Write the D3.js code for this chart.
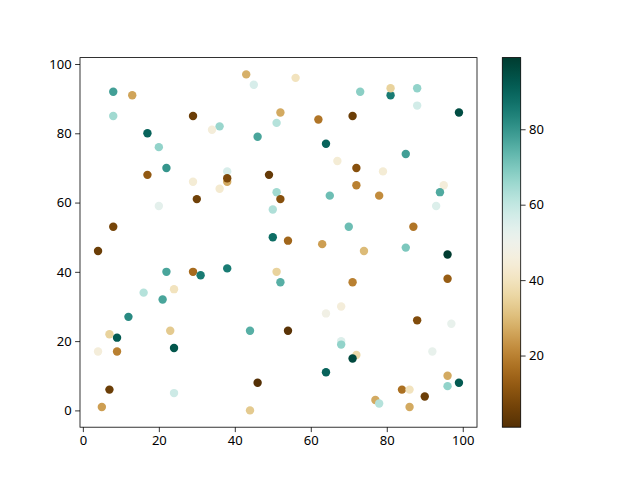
<!DOCTYPE html>
<html>
<head>
<meta charset="utf-8">
<script src="https://cdn.jsdelivr.net/npm/d3@7"></script>
<style>
  body { margin: 0; background: #fff; }
  text { font-family: "Noto Sans", "DejaVu Sans", sans-serif; }
</style>
</head>
<body>
<div id="chart"></div>
<script>
// point positions and colour values
var xs = [8, 13, 8, 29, 34, 36, 17, 20, 22, 17, 29, 36, 30, 20, 8,
          43, 45, 56, 52, 51, 62, 71, 46, 64, 67, 38, 38, 38, 49, 51, 52, 50, 65, 70, 50, 54, 63,
          73, 81, 81, 88, 88, 99, 85, 72, 79, 72, 78, 95, 94, 93, 87, 85,
          4, 22, 29, 31, 16, 24, 21, 12, 7, 9, 23, 4, 9, 24, 7, 24, 5,
          38, 51, 52, 71, 68, 64, 44, 54, 72, 68, 68, 71, 64, 46, 44,
          74, 96, 96, 88, 97, 92, 96, 99, 96, 84, 86, 90, 77, 78, 86];
var ys = [92, 91, 85, 85, 81, 82, 80, 76, 70, 68, 66, 64, 61, 59, 53,
          97, 94, 96, 86, 83, 84, 85, 79, 77, 72, 69, 66, 67, 68, 63, 61, 58, 62, 53, 50, 49, 48,
          92, 91, 93, 93, 88, 86, 74, 70, 69, 65, 62, 65, 63, 59, 53, 47,
          46, 40, 40, 39, 34, 35, 32, 27, 22, 21, 23, 17, 17, 18, 6, 5, 1,
          41, 40, 37, 37, 30, 28, 23, 23, 16, 20, 19, 15, 11, 8, 0,
          46, 45, 38, 26, 25, 17, 10, 8, 7, 6, 6, 4, 3, 2, 1];
var cs = [78, 26, 65, 5, 45, 66, 90, 67, 80, 12, 44, 43, 6, 53, 7,
          28, 56, 40, 27, 62, 18, 5, 77, 90, 44, 56, 27, 8, 4, 65, 10, 63, 72, 72, 88, 15, 25,
          68, 85, 35, 67, 57, 95, 78, 10, 44, 20, 22, 45, 76, 55, 18, 70,
          5, 77, 16, 85, 62, 40, 77, 82, 35, 92, 33, 45, 20, 93, 5, 58, 25,
          85, 35, 75, 20, 45, 48, 75, 2, 37, 55, 67, 96, 90, 1, 33,
          30, 99, 13, 9, 52, 52, 27, 92, 67, 17, 40, 5, 27, 62, 27];
var xTicks = [0, 20, 40, 60, 80, 100];
var yTicks = [0, 20, 40, 60, 80, 100];
var cTicks = [20, 40, 60, 80];

var W = 640, H = 480;
var axL = 80, axR = 477, axT = 57.6, axB = 427.2;
var cbL = 502.3, cbR = 520.7;

var svg = d3.select("#chart")
    .append("svg")
    .attr("width", W)
    .attr("height", H);

var data = xs.map(function(v, i) { return {x: v, y: ys[i], c: cs[i]}; });

// matplotlib style 5% margins around the data
var xe = d3.extent(xs), ye = d3.extent(ys);
var xm = (xe[1] - xe[0]) * 0.05, ym = (ye[1] - ye[0]) * 0.05;

var x = d3.scaleLinear()
    .domain([xe[0] - xm, xe[1] + xm])
    .range([axL, axR]);
var y = d3.scaleLinear()
    .domain([ye[0] - ym, ye[1] + ym])
    .range([axB, axT]);
var color = d3.scaleSequential(d3.interpolateBrBG)
    .domain(d3.extent(cs));

// points
svg.append("g")
    .selectAll("circle")
    .data(data)
    .enter()
    .append("circle")
        .attr("cx", function(d) { return x(d.x); })
        .attr("cy", function(d) { return y(d.y); })
        .attr("r", 4.2)
        .attr("fill", function(d) { return color(d.c); });

function styleAxis(a) {
    a.select(".domain").remove();
    a.selectAll("text").attr("font-size", 13).attr("fill", "#000")
        .attr("font-family", "'Noto Sans', 'DejaVu Sans', sans-serif");
    a.selectAll("line").attr("stroke", "#000").attr("stroke-width", 0.8);
}

// axes
svg.append("g")
    .attr("transform", "translate(0," + axB + ")")
    .call(d3.axisBottom(x).tickValues(xTicks).tickSize(4.9).tickPadding(3.5))
    .call(styleAxis);
svg.append("g")
    .attr("transform", "translate(" + axL + ",0)")
    .call(d3.axisLeft(y).tickValues(yTicks).tickSize(4.9).tickPadding(3.5))
    .call(styleAxis);

svg.append("rect")
    .attr("x", axL).attr("y", axT)
    .attr("width", axR - axL).attr("height", axB - axT)
    .attr("fill", "none").attr("stroke", "#000").attr("stroke-width", 0.8);

// colorbar
var cScale = d3.scaleLinear()
    .domain(color.domain())
    .range([axB, axT]);

var grad = svg.append("defs").append("linearGradient")
    .attr("id", "cbar")
    .attr("x1", "0").attr("y1", "1").attr("x2", "0").attr("y2", "0");
d3.range(0, 1.0001, 0.02).forEach(function(t) {
    grad.append("stop")
        .attr("offset", t)
        .attr("stop-color", d3.interpolateBrBG(t));
});

svg.append("rect")
    .attr("x", cbL).attr("y", axT)
    .attr("width", cbR - cbL).attr("height", axB - axT)
    .attr("fill", "url(#cbar)")
    .attr("stroke", "#000").attr("stroke-width", 0.8);

svg.append("g")
    .attr("transform", "translate(" + cbR + ",0)")
    .call(d3.axisRight(cScale).tickValues(cTicks).tickSize(4.9).tickPadding(3.5))
    .call(styleAxis);
</script>
</body>
</html>
